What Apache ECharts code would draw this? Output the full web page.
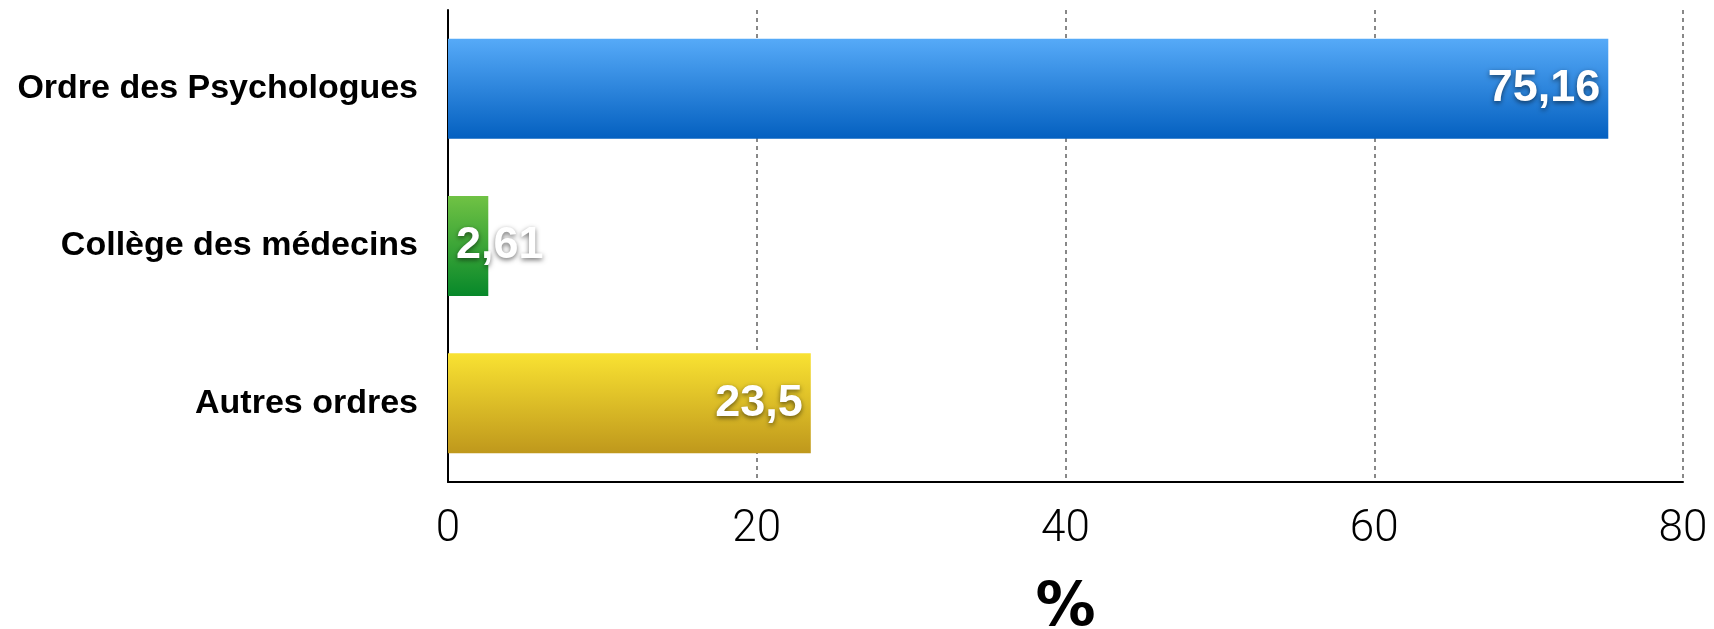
<!DOCTYPE html>
<html><head><meta charset="utf-8">
<script src="https://cdn.jsdelivr.net/npm/echarts@6/dist/echarts.min.js"></script>
<style>html,body{margin:0;padding:0;background:#fff}#c{width:1714px;height:629px}</style>
</head><body><div id="c"></div>
<script>
const categories = ['Ordre des Psychologues', 'Collège des médecins', 'Autres ordres'];
const values = [75.16, 2.61, 23.5];
const valueLabels = ['75,16', '2,61', '23,5'];
const xTicks = [0, 20, 40, 60, 80];
const axisName = '%';
const gradients = [
  ['#56aaf8', '#0460c0'],
  ['#70c244', '#07882a'],
  ['#f9e232', '#bf981c']
];
const chart = echarts.init(document.getElementById('c'));
chart.setOption({
  animation: false,
  grid: { left: 448, right: 31, top: 10, bottom: 147, containLabel: false, outerBoundsMode: 'none' },
  xAxis: {
    type: 'value', min: 0, max: 80, interval: 20,
    name: axisName, nameLocation: 'middle', nameGap: 97,
    nameTextStyle: { fontFamily: 'DejaVu Sans', fontWeight: 'bold', fontSize: 60, color: '#000' },
    axisLine: { show: true, lineStyle: { color: '#000', width: 2 } },
    axisTick: { show: false },
    axisLabel: { margin: 26, fontFamily: 'Roboto', fontWeight: 300, fontSize: 44, color: '#000',
      formatter: v => xTicks.includes(v) ? String(v) : '' },
    splitLine: { show: true, lineStyle: { color: '#888', type: [4, 4], width: 2 } }
  },
  yAxis: {
    type: 'category', data: categories, inverse: true,
    axisLine: { show: true, lineStyle: { color: '#000', width: 2 } },
    axisTick: { show: false },
    axisLabel: { margin: 30, fontFamily: 'Liberation Sans', fontWeight: 'bold', fontSize: 34, color: '#000' }
  },
  series: [{
    type: 'bar', barWidth: 100,
    data: values.map((v, i) => ({
      value: v,
      itemStyle: { color: new echarts.graphic.LinearGradient(0, 0, 0, 1, [
        { offset: 0, color: gradients[i][0] }, { offset: 1, color: gradients[i][1] }]) },
      label: { position: v < 10 ? 'insideLeft' : 'insideRight' }
    })),
    label: {
      show: true, distance: 8,
      formatter: p => valueLabels[p.dataIndex],
      fontFamily: 'Liberation Sans', fontWeight: 'bold', fontSize: 45, color: '#fff',
      textShadowColor: 'rgba(0,0,0,0.55)', textShadowBlur: 5, textShadowOffsetY: 2
    }
  }]
});
</script></body></html>
